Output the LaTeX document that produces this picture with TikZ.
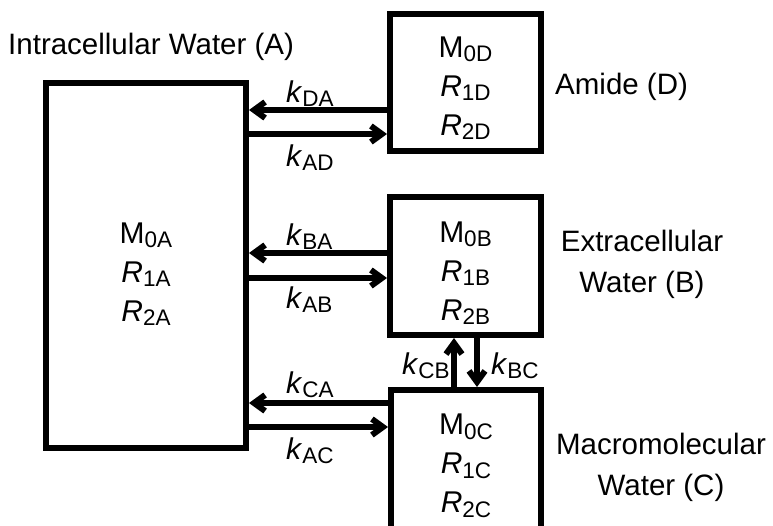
\documentclass[tikz,border=0pt]{standalone}
\usepackage{fontspec}
\setmainfont{Liberation Sans}
\usetikzlibrary{arrows.meta}

\newcommand{\lowsub}[1]{\raisebox{-4.5pt}{\fontsize{22.5}{22.5}\selectfont #1}}
\newcommand{\ratek}[1]{\textit{k}\lowsub{#1}}

\begin{document}
\begin{tikzpicture}[x=1pt,y=-1pt,
  pool/.style={draw,line width=6pt,inner sep=0pt},
  vals/.style={align=center,inner sep=0pt,font=\fontsize{30}{39}\selectfont},
  poolname/.style={align=center,inner sep=0pt,font=\fontsize{29.5}{41}\selectfont},
  ratelbl/.style={anchor=base west,inner sep=0pt,font=\fontsize{30}{30}\selectfont},
  flow/.style={line width=6pt,-{Straight Barb[length=11pt,width=16pt]}}
]
  \useasboundingbox (0,0) rectangle (773,525);
  \clip (0,0) rectangle (773,525);

  % compartments
  \node[pool,minimum width=200pt,minimum height=365pt] (abox) at (146,265.5) {};
  \node[pool,minimum width=151pt,minimum height=137pt] (dbox) at (465.5,82.5) {};
  \node[pool,minimum width=151pt,minimum height=138pt] (bbox) at (465.5,266) {};
  \node[pool,minimum width=150pt,minimum height=150pt] (cbox) at (466,465) {};

  \node[vals] (avals) at (146,274) {M\lowsub{0A}\\\textit{R}\lowsub{1A}\\\textit{R}\lowsub{2A}};
  \node[vals] (dvals) at (465.5,88) {M\lowsub{0D}\\\textit{R}\lowsub{1D}\\\textit{R}\lowsub{2D}};
  \node[vals] (bvals) at (465.5,273) {M\lowsub{0B}\\\textit{R}\lowsub{1B}\\\textit{R}\lowsub{2B}};
  \node[vals] (cvals) at (466,466) {M\lowsub{0C}\\\textit{R}\lowsub{1C}\\\textit{R}\lowsub{2C}};

  \node[poolname,anchor=base west] (aname) at (8,54) {Intracellular Water (A)};
  \node[poolname,anchor=base west] (dname) at (555,94) {Amide (D)};
  \node[poolname] (bname) at (642,264) {Extracellular\\Water (B)};
  \node[poolname] (cname) at (661,467.5) {Macromolecular\\Water (C)};

  % exchange
  \coordinate (yda) at (0,110);
  \coordinate (yad) at (0,134);
  \coordinate (yba) at (0,253);
  \coordinate (yab) at (0,278);
  \coordinate (yca) at (0,403);
  \coordinate (yac) at (0,427);
  \coordinate (xcb) at (454,0);
  \coordinate (xbc) at (477,0);
  \draw[flow] (dbox.west |- yda) -- (abox.east |- yda);
  \draw[flow] (abox.east |- yad) -- (dbox.west |- yad);
  \draw[flow] (bbox.west |- yba) -- (abox.east |- yba);
  \draw[flow] (abox.east |- yab) -- (bbox.west |- yab);
  \draw[flow] (cbox.west |- yca) -- (abox.east |- yca);
  \draw[flow] (abox.east |- yac) -- (cbox.west |- yac);
  \draw[flow] (cbox.north -| xcb) -- (bbox.south -| xcb);
  \draw[flow] (bbox.south -| xbc) -- (cbox.north -| xbc);

  \node[ratelbl] (kda) at (286,102) {\ratek{DA}};
  \node[ratelbl] (kad) at (286,166) {\ratek{AD}};
  \node[ratelbl] (kba) at (286,245) {\ratek{BA}};
  \node[ratelbl] (kab) at (286,308) {\ratek{AB}};
  \node[ratelbl] (kca) at (286,393) {\ratek{CA}};
  \node[ratelbl] (kac) at (286,459) {\ratek{AC}};
  \node[ratelbl] (kcb) at (402,374) {\ratek{CB}};
  \node[ratelbl] (kbc) at (491,374) {\ratek{BC}};
\end{tikzpicture}
\end{document}
